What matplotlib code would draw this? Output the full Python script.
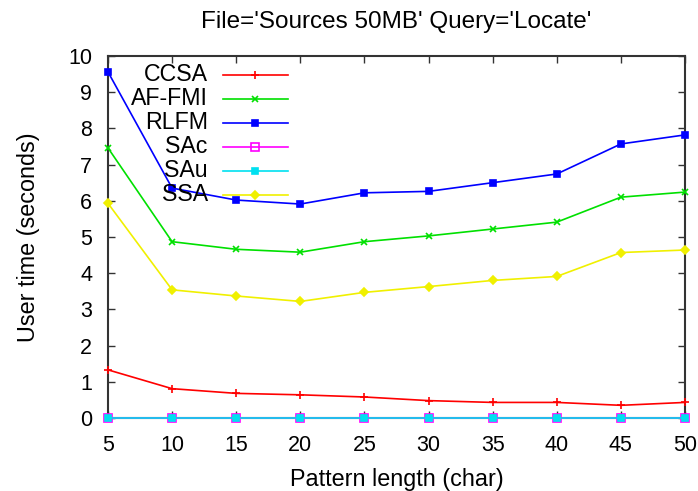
import numpy as np
import matplotlib
from matplotlib import pyplot as plt
from matplotlib.lines import Line2D

#############################################
#Chart template, gnuplot-ish look
matplotlib.rcParams.update({'font.family': ['Liberation Sans', 'DejaVu Sans'],
                            'xtick.direction': 'in',
                            'ytick.direction': 'in',
                            'xtick.top': True,
                            'ytick.right': True,
                            'xtick.labelsize': 15.5,
                            'ytick.labelsize': 15.5,
                            'axes.labelsize': 16.8})
#############################################

#############################################
#Locate times on Sources 50MB
pattern_len = [5, 10, 15, 20, 25, 30, 35, 40, 45, 50]

ccsa = [1.33, 0.81, 0.68, 0.64, 0.58, 0.48, 0.43, 0.43, 0.35, 0.43]
af_fmi = [7.46, 4.87, 4.66, 4.58, 4.87, 5.03, 5.22, 5.41, 6.10, 6.24]
rlfm = [9.56, 6.35, 6.02, 5.91, 6.22, 6.26, 6.50, 6.74, 7.57, 7.82]
sa_c = [0, 0, 0, 0, 0, 0, 0, 0, 0, 0]
sa_u = [0, 0, 0, 0, 0, 0, 0, 0, 0, 0]
ssa = [5.93, 3.54, 3.37, 3.22, 3.47, 3.63, 3.80, 3.91, 4.57, 4.64]

labels = ['CCSA', 'AF-FMI', 'RLFM', 'SAc', 'SAu', 'SSA']
series = [ccsa, af_fmi, rlfm, sa_c, sa_u, ssa]
colors = ['#ff0000', '#00e000', '#0000ff', '#ff00ff', '#00e0f0', '#f0f000']
markers = ['+', 'x', 's', 's', 's', 'D']
fills = ['full', 'full', 'full', 'none', 'full', 'full']
msizes = [6, 5, 5, 6, 4, 4]
#############################################

fig = plt.figure(figsize=(6.98, 4.91), dpi=100)
ax = fig.add_axes([0.1547, 0.1487, 0.8267, 0.7373])

for vals, lab, c, m, fs, ms in zip(series, labels, colors, markers, fills, msizes):
    ax.plot(pattern_len, vals, color=c, marker=m, fillstyle=fs,
            markersize=ms, linewidth=1.2, markeredgewidth=1.2, label=lab,
            clip_on=False, zorder=3)

ax.set_xlim(5, 50)
ax.set_ylim(0, 10)
ax.set_xticks(pattern_len)
ax.set_yticks(np.arange(0, 11, 1))
ax.tick_params(length=5, width=1, color='#333333')
ax.tick_params(axis='x', pad=12)
ax.tick_params(axis='y', pad=11.5)
for sp in ax.spines.values():
    sp.set_linewidth(1.5)
    sp.set_color('#333333')

ax.set_xlabel('Pattern length (char)', labelpad=9)
ax.set_ylabel('User time (seconds)', labelpad=20)
ax.set_title("File='Sources 50MB' Query='Locate'", fontsize=17.5, pad=20)

#Key in gnuplot style: right aligned text with sample after it
for i, (lab, c, m, fs, ms) in enumerate(zip(labels, colors, markers, fills, msizes)):
    yy = 0.9475 - i * 0.0663
    ax.text(0.173, yy, lab, transform=ax.transAxes, ha='right', va='center',
            fontsize=16.7)
    ax.add_line(Line2D([0.199, 0.312], [yy, yy], transform=ax.transAxes,
                       color=c, linewidth=1.2))
    ax.add_line(Line2D([0.2555], [yy], transform=ax.transAxes, color=c,
                       marker=m, fillstyle=fs, markersize=ms,
                       markeredgewidth=1.2))

plt.savefig('out.png', dpi=100)
